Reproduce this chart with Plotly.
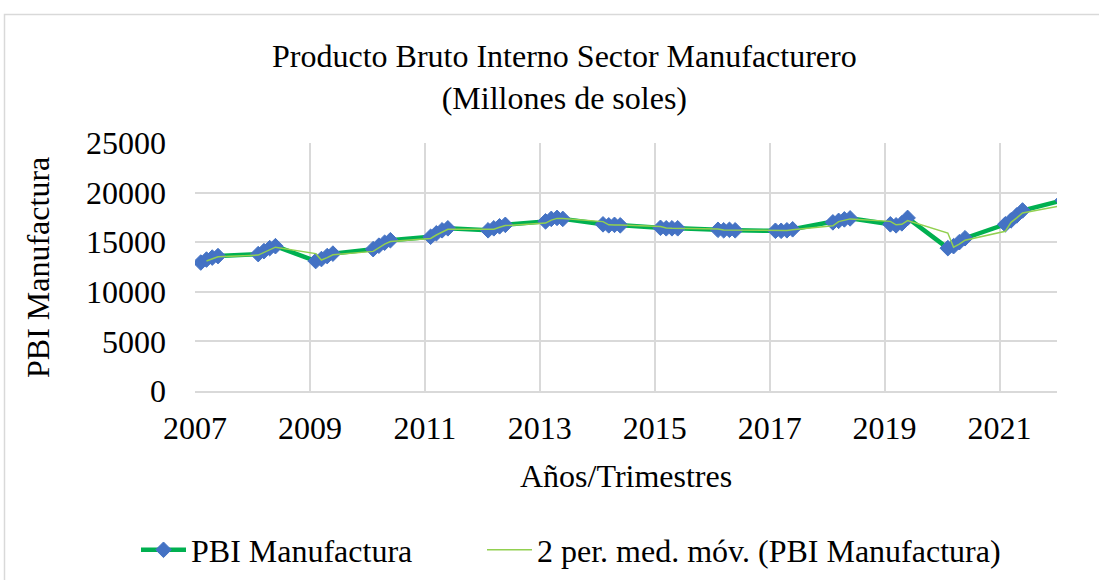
import plotly.graph_objects as go
import pandas as pd

# Data: quarterly PBI manufacturing (millions of soles)
years = list(range(2007, 2023))
quarters = [1, 2, 3, 4]
pbi_by_year = {
    2007: [12950, 13250, 13450, 13600],
    2008: [13800, 14100, 14400, 14600],
    2009: [13100, 13300, 13600, 13850],
    2010: [14300, 14650, 14950, 15200],
    2011: [15550, 15900, 16200, 16400],
    2012: [16200, 16400, 16600, 16750],
    2013: [17100, 17350, 17450, 17350],
    2014: [16800, 16700, 16750, 16700],
    2015: [16450, 16400, 16400, 16400],
    2016: [16250, 16200, 16250, 16200],
    2017: [16150, 16150, 16200, 16300],
    2018: [17000, 17150, 17300, 17400],
    2019: [16800, 16700, 16900, 17450],
    2020: [14400, 14600, 15000, 15400],
    2021: [16800, 17200, 17700, 18200],
    2022: [19230],
}

periodo = []
pbi = []
for y in years:
    for q, v in zip(quarters, pbi_by_year[y]):
        periodo.append(round(y + q / 10, 1))
        pbi.append(v)

media_movil = pd.Series(pbi).rolling(2).mean().tolist()

x_ticks = list(range(2007, 2022, 2))
y_ticks = [0, 5000, 10000, 15000, 20000, 25000]

FONT = "Liberation Serif, Times New Roman, serif"
FS = 32
W, H = 1099, 580
L, R, T, B = 195, 42, 143, 189
pw = W - L - R
ph = H - T - B

def px(xp):
    return (xp - L) / pw

def py(yp):
    return (H - B - yp) / ph

fig = go.Figure()
fig.add_trace(go.Scatter(
    x=periodo, y=pbi, name="PBI Manufactura", mode="lines+markers",
    line=dict(color="#00B050", width=4.5),
    marker=dict(symbol="diamond", size=12, color="#4472C4",
                line=dict(color="#4472C4", width=1)),
    legend="legend",
))
fig.add_trace(go.Scatter(
    x=periodo, y=media_movil, name="2 per. med. móv. (PBI Manufactura)",
    mode="lines", line=dict(color="#92D050", width=1.5),
    legend="legend2",
))

grid = "#D9D9D9"
leg_common = dict(orientation="h", xref="container", yref="container",
                  xanchor="left", yanchor="middle", y=1 - 550 / H,
                  font=dict(size=FS), itemwidth=45, bgcolor="rgba(0,0,0,0)")
fig.update_layout(
    width=W, height=H,
    margin=dict(l=L, r=R, t=T, b=B, autoexpand=False),
    paper_bgcolor="white", plot_bgcolor="white",
    font=dict(family=FONT, size=FS, color="black"),
    showlegend=True,
    legend=dict(x=136 / W, **leg_common),
    legend2=dict(x=482 / W, **leg_common),
    xaxis=dict(range=[2007, 2022], tickvals=x_ticks, ticktext=[str(v) for v in x_ticks],
               showgrid=True, gridcolor=grid, gridwidth=1.5,
               showline=True, linecolor=grid, linewidth=1.5,
               zeroline=False, ticks="", ticklabelstandoff=8, automargin=False,
               tickfont=dict(size=FS)),
    yaxis=dict(range=[0, 25000], tickvals=y_ticks, ticktext=[str(v) for v in y_ticks],
               showgrid=True, gridcolor=grid, gridwidth=1.5,
               showline=False, zeroline=False, ticks="", ticklabelstandoff=28,
               automargin=False, tickfont=dict(size=FS)),
    annotations=[
        dict(text="Producto Bruto Interno Sector Manufacturero<br>(Millones de soles)",
             x=px(564), y=py(77), xref="paper", yref="paper", showarrow=False,
             xanchor="center", yanchor="middle", font=dict(size=FS)),
        dict(text="PBI Manufactura", x=px(38), y=py(268), xref="paper", yref="paper",
             showarrow=False, textangle=-90, xanchor="center", yanchor="middle",
             font=dict(size=FS)),
        dict(text="Años/Trimestres", x=px(626), y=py(476), xref="paper", yref="paper",
             showarrow=False, xanchor="center", yanchor="middle", font=dict(size=FS)),
    ],
    shapes=[
        dict(type="rect", xref="paper", yref="paper",
             x0=px(4.5), x1=px(1110), y0=py(600), y1=py(14.5),
             line=dict(color=grid, width=1.5), fillcolor="rgba(0,0,0,0)", layer="below"),
    ],
)

fig.write_html("out.html", config={"displayModeBar": False},
               post_script="document.body.style.margin='0';")
